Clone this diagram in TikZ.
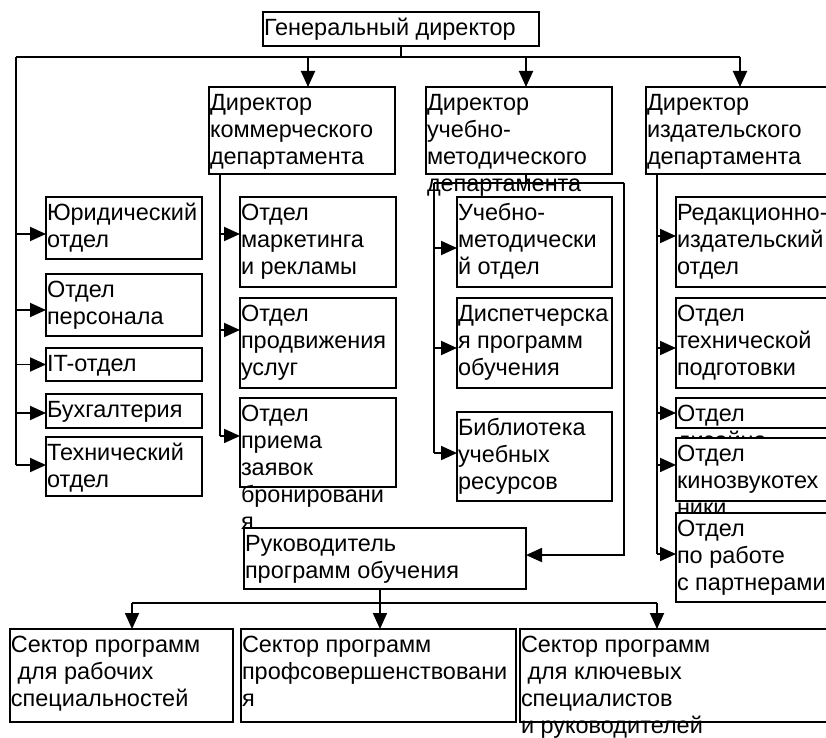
\documentclass[tikz,border=0pt]{standalone}
\usepackage{fontspec}
\setmainfont{Liberation Sans}
\usetikzlibrary{arrows.meta}
\pgfdeclarelayer{bg}
\pgfsetlayers{bg,main}
\tikzset{
  boxst/.style={draw, fill=white, line width=1.4pt, inner sep=0pt, outer sep=0pt},
  txtst/.style={inner sep=0pt, outer sep=0pt, align=left, font=\fontsize{17.6}{20.25}\selectfont},
  con/.style={line width=1.4pt},
  arr/.style={con, -{Triangle[length=12pt,width=10.5pt]}},
}
\newcommand\obox[6]{%
  \node[boxst, minimum width={#4*0.75pt}, minimum height={#5*0.75pt}, anchor=north west] (#1) at (#2,#3) {};
  \node[txtst, anchor=north west] (#1t) at (#2+1,#3+4.5) {\strut #6};}
\newcommand\harr[3]{%
  \coordinate (#2A) at ([yshift=#3]#2.west);
  \draw[arr] (#1 |- #2A) -- (#2A);}
\begin{document}
\begin{tikzpicture}[x=0.75pt,y=-0.75pt]
\useasboundingbox (0,0) rectangle (826,738);
% top
\obox{gd}{263}{12}{276}{34}{Генеральный директор}
\obox{com}{209}{87}{186}{87}{Директор\\коммерческого\\департамента}
\obox{umd}{426}{87}{186}{87}{Директор\\учебно-\\методического\\департамента}
\obox{pub}{646}{87}{184}{87}{Директор\\издательского\\департамента}
% left column
\obox{jur}{46}{197}{156}{62}{Юридический\\отдел}
\obox{per}{46}{274}{156}{62}{Отдел\\персонала}
\obox{itd}{46}{348}{156}{33}{IT-отдел}
\obox{buh}{46}{394}{156}{34}{Бухгалтерия}
\obox{teh}{46}{437}{156}{59}{Технический\\отдел}
% commercial
\obox{mar}{240}{197}{156}{90}{Отдел\\маркетинга\\и рекламы}
\obox{pro}{240}{298}{156}{90}{Отдел\\продвижения\\услуг}
\obox{pri}{240}{398}{156}{89}{Отдел\\приема\\заявок\\бронировани\\я}
% educational
\obox{umo}{457}{197}{155}{90}{Учебно-\\методически\\й отдел}
\obox{dis}{457}{298}{155}{90}{Диспетчерска\\я программ\\обучения}
\obox{bib}{457}{412}{155}{89}{Библиотека\\учебных\\ресурсов}
% publishing
\obox{red}{676}{197}{154}{90}{Редакционно-\\издательский\\отдел}
\obox{tpd}{676}{298}{154}{90}{Отдел\\технической\\подготовки}
\obox{diz}{676}{398}{154}{30}{Отдел\\дизайна}
\obox{kin}{676}{438}{154}{63}{Отдел\\кинозвукотех\\ники}
\obox{prt}{676}{513}{154}{89}{Отдел\\по работе\\с партнерами}
% programmes
\obox{ruk}{244}{528}{282}{61}{Руководитель\\программ обучения}
\obox{sa}{10}{629}{223}{93}{Сектор программ\\\ для рабочих\\специальностей}
\obox{sb}{241}{629}{275}{93}{Сектор программ\\профсовершенствовани\\я}
\obox{sc}{520}{629}{310}{93}{Сектор программ\\\ для ключевых\\специалистов\\и руководителей}

\begin{pgfonlayer}{bg}
% general director bus
\coordinate (busL) at (16,57);
\coordinate (comA) at ([xshift=4.5pt]com.north);
\coordinate (umdA) at ([xshift=5.25pt]umd.north);
\coordinate (pubA) at ([xshift=1.5pt]pub.north);
\draw[con] (gd.south) -- (gd.south |- busL);
\draw[con] (busL) -- (pubA |- busL);
\draw[arr] (comA |- busL) -- (comA);
\draw[arr] (umdA |- busL) -- (umdA);
\draw[arr] (pubA |- busL) -- (pubA);
% left column
\harr{busL}{jur}{-4.5pt}
\harr{busL}{per}{-3.75pt}
\harr{busL}{itd}{0pt}
\harr{busL}{buh}{-1.5pt}
\harr{busL}{teh}{1.1pt}
\draw[con] (busL) -- (busL |- tehA);
% commercial
\coordinate (comB) at ([xshift=8.25pt]com.south west);
\harr{comB}{mar}{6pt}
\harr{comB}{pro}{9.75pt}
\harr{comB}{pri}{4.9pt}
\draw[con] (comB) -- (comB |- priA);
% educational
\coordinate (umdB) at ([xshift=5.25pt]umd.south);
\coordinate (umL) at (434,183);
\coordinate (umR) at (624,183);
\draw[con] (umdB) -- (umdB |- umL);
\draw[con] (umL) -- (umR);
\harr{umL}{umo}{-4.5pt}
\harr{umL}{dis}{-3.75pt}
\harr{umL}{bib}{2.6pt}
\draw[con] (umL) -- (umL |- bibA);
\coordinate (rukA) at ([yshift=2.6pt]ruk.east);
\draw[arr] (umR) |- (rukA);
% publishing
\coordinate (pubB) at ([xshift=8.25pt]pub.south west);
\harr{pubB}{red}{4.5pt}
\harr{pubB}{tpd}{-3.75pt}
\harr{pubB}{diz}{0pt}
\harr{pubB}{kin}{3.4pt}
\harr{pubB}{prt}{2.6pt}
\draw[con] (pubB) -- (pubB |- prtA);
% programmes
\coordinate (rukB) at ([xshift=-3.75pt]ruk.south);
\coordinate (sbus) at (380,603);
\coordinate (saA) at ([xshift=7.9pt]sa.north);
\coordinate (sbA) at ([xshift=1.1pt]sb.north);
\coordinate (scA) at ([xshift=-13.5pt]sc.north);
\draw[con] (rukB) -- (rukB |- sbus);
\draw[con] (saA |- sbus) -- (scA |- sbus);
\draw[arr] (saA |- sbus) -- (saA);
\draw[arr] (sbA |- sbus) -- (sbA);
\draw[arr] (scA |- sbus) -- (scA);
\end{pgfonlayer}
\end{tikzpicture}
\end{document}
